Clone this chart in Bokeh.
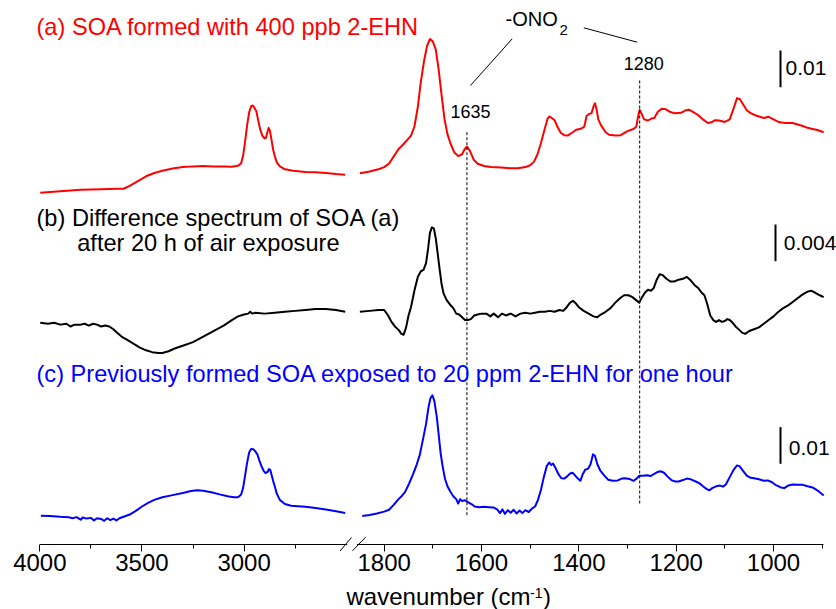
import numpy as np
from bokeh.plotting import figure
from bokeh.models import Range1d, FixedTicker, Label, LinearAxis
from bokeh.embed import file_html
from bokeh.resources import INLINE

# ---------------- data (wavenumber in cm-1, absorbance) ----------------
# (a) SOA formed with 400 ppb 2-EHN
wn_a_left = [3998, 3900, 3800, 3700, 3620, 3590, 3560, 3520, 3480, 3440, 3400, 3350, 3300, 3250, 3200,
             3150, 3100, 3060, 3030, 3015, 3005, 2995, 2985, 2975, 2965, 2958, 2950, 2940, 2930, 2920,
             2910, 2900, 2893, 2886, 2880, 2874, 2866, 2858, 2850, 2840, 2825, 2800, 2760, 2700, 2650,
             2600, 2550, 2505]
abs_a_left = [0.0000, 0.0004, 0.0008, 0.0010, 0.0011, 0.0011, 0.0019, 0.0032, 0.0045, 0.0054, 0.0060,
              0.0066, 0.0070, 0.0072, 0.0073, 0.0072, 0.0072, 0.0071, 0.0074, 0.0080, 0.0100, 0.0140,
              0.0185, 0.0220, 0.0236, 0.0238, 0.0232, 0.0222, 0.0195, 0.0170, 0.0155, 0.0148, 0.0150,
              0.0165, 0.0177, 0.0170, 0.0145, 0.0118, 0.0100, 0.0083, 0.0072, 0.0064, 0.0060, 0.0057,
              0.0056, 0.0054, 0.0051, 0.0049]
wn_a_right = [1850, 1830, 1810, 1800, 1790, 1780, 1770, 1760, 1752, 1745, 1738, 1731, 1725, 1718, 1712,
              1706, 1700, 1694, 1688, 1682, 1676, 1670, 1664, 1656, 1648, 1640, 1635, 1630, 1624, 1616,
              1608, 1595, 1580, 1560, 1540, 1525, 1510, 1500, 1492, 1485, 1478, 1470, 1464, 1460, 1455,
              1450, 1444, 1437, 1430, 1423, 1415, 1405, 1395, 1389, 1384, 1378, 1374, 1370, 1367, 1364,
              1360, 1355, 1345, 1338, 1325, 1314, 1300, 1288, 1282, 1278, 1275, 1271, 1266, 1258, 1250,
              1245, 1238, 1230, 1222, 1212, 1204, 1190, 1180, 1173, 1165, 1155, 1145, 1135, 1128, 1120,
              1112, 1100, 1090, 1082, 1075, 1069, 1062, 1055, 1047, 1035, 1020, 1010, 1000, 988, 975,
              961, 950, 940, 930, 920, 910, 897]
abs_a_right = [0.0053, 0.0058, 0.0065, 0.0070, 0.0080, 0.0100, 0.0120, 0.0133, 0.0145, 0.0156, 0.0180,
               0.0233, 0.0300, 0.0360, 0.0400, 0.0419, 0.0412, 0.0390, 0.0335, 0.0265, 0.0200, 0.0160,
               0.0135, 0.0110, 0.0100, 0.0105, 0.0118, 0.0126, 0.0115, 0.0090, 0.0079, 0.0073, 0.0070,
               0.0069, 0.0067, 0.0067, 0.0070, 0.0075, 0.0085, 0.0105, 0.0135, 0.0175, 0.0203, 0.0208,
               0.0203, 0.0198, 0.0180, 0.0163, 0.0157, 0.0156, 0.0163, 0.0172, 0.0175, 0.0180, 0.0210,
               0.0215, 0.0217, 0.0235, 0.0244, 0.0230, 0.0200, 0.0185, 0.0165, 0.0158, 0.0156, 0.0157,
               0.0168, 0.0174, 0.0180, 0.0210, 0.0226, 0.0215, 0.0200, 0.0197, 0.0203, 0.0204, 0.0220,
               0.0229, 0.0228, 0.0220, 0.0217, 0.0218, 0.0225, 0.0226, 0.0220, 0.0212, 0.0200, 0.0190,
               0.0192, 0.0198, 0.0197, 0.0193, 0.0200, 0.0230, 0.0258, 0.0255, 0.0240, 0.0225, 0.0217,
               0.0210, 0.0204, 0.0207, 0.0200, 0.0192, 0.0190, 0.0190, 0.0186, 0.0182, 0.0177, 0.0174,
               0.0171, 0.0165]

# (b) Difference spectrum of SOA (a) after 20 h of air exposure
wn_b_left = [3998, 3960, 3930, 3900, 3870, 3850, 3830, 3800, 3780, 3760, 3740, 3720, 3700, 3680, 3660,
             3640, 3620, 3600, 3570, 3540, 3510, 3480, 3450, 3420, 3400, 3370, 3340, 3300, 3250, 3200,
             3150, 3100, 3060, 3030, 3000, 2980, 2970, 2960, 2945, 2900, 2850, 2800, 2750, 2700, 2650,
             2600, 2550, 2505]
abs_b_left = [0.0000, -0.0001, 0.0000, -0.0002, -0.0001, -0.0004, -0.0002, -0.0002, -0.0001, -0.0003,
              -0.0001, -0.0002, -0.0004, -0.0003, -0.0004, -0.0007, -0.0011, -0.0015, -0.0019, -0.0023,
              -0.0027, -0.0030, -0.0032, -0.0033, -0.0033, -0.0031, -0.0028, -0.0025, -0.0021, -0.0015,
              -0.0009, -0.0003, 0.0003, 0.0007, 0.0009, 0.0010, 0.0012, 0.0010, 0.0011, 0.0010, 0.0011,
              0.0012, 0.0013, 0.0014, 0.0015, 0.0015, 0.0014, 0.0012]
wn_b_right = [1850, 1830, 1812, 1800, 1792, 1785, 1778, 1770, 1765, 1760, 1755, 1750, 1745, 1738, 1731,
              1725, 1719, 1714, 1710, 1706, 1702, 1698, 1694, 1690, 1686, 1682, 1678, 1672, 1665, 1658,
              1652, 1646, 1640, 1634, 1628, 1622, 1615, 1608, 1600, 1590, 1582, 1575, 1566, 1558, 1550,
              1540, 1530, 1520, 1510, 1500, 1490, 1480, 1470, 1460, 1450, 1440, 1432, 1425, 1418, 1412,
              1406, 1400, 1390, 1380, 1370, 1362, 1355, 1345, 1335, 1325, 1315, 1307, 1298, 1290, 1283,
              1276, 1270, 1264, 1258, 1252, 1246, 1240, 1234, 1228, 1220, 1212, 1204, 1195, 1186, 1178,
              1170, 1162, 1155, 1148, 1142, 1136, 1130, 1124, 1118, 1112, 1106, 1100, 1095, 1090, 1084,
              1078, 1070, 1064, 1058, 1050, 1040, 1030, 1020, 1010, 1000, 990, 980, 970, 960, 950, 940,
              930, 923, 915, 905, 897]
abs_b_right = [0.0012, 0.0013, 0.0014, 0.0014, 0.0008, 0.0001, -0.0004, -0.0008, -0.0012, -0.0013,
               -0.0005, 0.0008, 0.0017, 0.0035, 0.0050, 0.0056, 0.0058, 0.0065, 0.0080, 0.0098, 0.0104,
               0.0103, 0.0092, 0.0075, 0.0058, 0.0042, 0.0032, 0.0025, 0.0020, 0.0016, 0.0010, 0.0009,
               0.0006, 0.0003, 0.0003, 0.0004, 0.0008, 0.0009, 0.0010, 0.0010, 0.0007, 0.0010, 0.0006,
               0.0010, 0.0008, 0.0010, 0.0007, 0.0010, 0.0011, 0.0010, 0.0011, 0.0012, 0.0012, 0.0013,
               0.0012, 0.0014, 0.0013, 0.0017, 0.0022, 0.0024, 0.0021, 0.0017, 0.0013, 0.0010, 0.0007,
               0.0006, 0.0009, 0.0012, 0.0016, 0.0022, 0.0027, 0.0030, 0.0030, 0.0028, 0.0025, 0.0022,
               0.0028, 0.0033, 0.0036, 0.0035, 0.0038, 0.0047, 0.0053, 0.0052, 0.0048, 0.0045, 0.0045,
               0.0047, 0.0048, 0.0050, 0.0046, 0.0041, 0.0038, 0.0033, 0.0030, 0.0020, 0.0008, 0.0003,
               0.0001, 0.0003, 0.0001, 0.0002, 0.0004, 0.0003, 0.0000, -0.0004, -0.0008, -0.0011,
               -0.0012, -0.0009, -0.0007, -0.0005, -0.0001, 0.0003, 0.0007, 0.0012, 0.0016, 0.0019,
               0.0023, 0.0027, 0.0031, 0.0034, 0.0035, 0.0033, 0.0030, 0.0028]

# (c) Previously formed SOA exposed to 20 ppm 2-EHN for one hour
wn_c_left = [3995, 3950, 3900, 3860, 3840, 3820, 3800, 3790, 3770, 3750, 3735, 3720, 3700, 3685, 3670,
             3655, 3640, 3625, 3610, 3590, 3560, 3530, 3500, 3470, 3440, 3400, 3350, 3300, 3260, 3230,
             3200, 3160, 3120, 3080, 3050, 3030, 3015, 3005, 2995, 2985, 2975, 2965, 2955, 2945, 2935,
             2925, 2915, 2905, 2895, 2885, 2878, 2872, 2865, 2858, 2850, 2840, 2825, 2800, 2770, 2700,
             2650, 2600, 2550, 2505]
abs_c_left = [0.0005, 0.0004, 0.0002, 0.0001, -0.0002, 0.0001, -0.0006, 0.0000, -0.0003, -0.0001,
              -0.0008, -0.0002, -0.0004, -0.0009, -0.0002, -0.0007, -0.0003, -0.0008, -0.0002, 0.0002,
              0.0008, 0.0018, 0.0030, 0.0040, 0.0048, 0.0055, 0.0061, 0.0067, 0.0072, 0.0074, 0.0073,
              0.0069, 0.0063, 0.0058, 0.0055, 0.0055, 0.0062, 0.0080, 0.0115, 0.0150, 0.0178, 0.0187,
              0.0186, 0.0180, 0.0172, 0.0155, 0.0140, 0.0128, 0.0121, 0.0124, 0.0132, 0.0130, 0.0115,
              0.0100, 0.0085, 0.0065, 0.0048, 0.0037, 0.0032, 0.0029, 0.0026, 0.0022, 0.0017, 0.0012]
wn_c_right = [1845, 1830, 1815, 1800, 1790, 1780, 1772, 1765, 1757, 1749, 1740, 1733, 1727, 1720, 1714,
              1709, 1705, 1701, 1697, 1692, 1688, 1684, 1680, 1675, 1670, 1664, 1658, 1652, 1648, 1644,
              1640, 1634, 1628, 1620, 1614, 1605, 1595, 1585, 1575, 1568, 1562, 1557, 1552, 1546, 1540,
              1534, 1528, 1522, 1516, 1510, 1503, 1496, 1490, 1484, 1478, 1472, 1466, 1461, 1457, 1453,
              1448, 1442, 1436, 1430, 1424, 1418, 1413, 1408, 1402, 1397, 1392, 1387, 1381, 1376, 1371,
              1367, 1362, 1356, 1348, 1340, 1330, 1320, 1312, 1305, 1296, 1288, 1282, 1276, 1268, 1260,
              1253, 1246, 1238, 1232, 1225, 1218, 1210, 1202, 1195, 1186, 1178, 1170, 1160, 1152, 1145,
              1138, 1132, 1126, 1118, 1110, 1104, 1098, 1090, 1082, 1075, 1070, 1063, 1055, 1047, 1040,
              1030, 1020, 1012, 1003, 995, 985, 978, 970, 960, 950, 940, 930, 920, 910, 897]
abs_c_right = [0.0004, 0.0007, 0.0011, 0.0016, 0.0021, 0.0035, 0.0048, 0.0057, 0.0070, 0.0092, 0.0120,
               0.0145, 0.0170, 0.0215, 0.0255, 0.0300, 0.0325, 0.0333, 0.0318, 0.0275, 0.0225, 0.0175,
               0.0140, 0.0105, 0.0085, 0.0070, 0.0058, 0.0050, 0.0038, 0.0050, 0.0045, 0.0047, 0.0042,
               0.0036, 0.0030, 0.0028, 0.0029, 0.0028, 0.0027, 0.0022, 0.0012, 0.0022, 0.0010, 0.0020,
               0.0013, 0.0021, 0.0011, 0.0019, 0.0012, 0.0020, 0.0015, 0.0025, 0.0030, 0.0048, 0.0075,
               0.0110, 0.0140, 0.0150, 0.0143, 0.0147, 0.0135, 0.0118, 0.0107, 0.0106, 0.0112, 0.0120,
               0.0122, 0.0115, 0.0106, 0.0100, 0.0118, 0.0130, 0.0133, 0.0145, 0.0172, 0.0168, 0.0145,
               0.0128, 0.0115, 0.0103, 0.0100, 0.0101, 0.0106, 0.0107, 0.0105, 0.0100, 0.0105, 0.0114,
               0.0114, 0.0115, 0.0113, 0.0118, 0.0124, 0.0126, 0.0122, 0.0112, 0.0102, 0.0098, 0.0098,
               0.0102, 0.0106, 0.0104, 0.0098, 0.0093, 0.0085, 0.0078, 0.0074, 0.0080, 0.0085, 0.0087,
               0.0084, 0.0090, 0.0110, 0.0130, 0.0142, 0.0140, 0.0128, 0.0114, 0.0108, 0.0107, 0.0104,
               0.0100, 0.0101, 0.0096, 0.0088, 0.0082, 0.0080, 0.0087, 0.0090, 0.0089, 0.0089, 0.0085,
               0.0082, 0.0074, 0.0060]

# axis ticks
major_wn = [4000, 3500, 3000, 1800, 1600, 1400, 1200, 1000]
minor_wn = [3750, 3250, 2750, 1700, 1500, 1300, 1100, 900]
marker_wn = [1630, 1275]            # dashed guide lines
marker_labels = ["1635", "1280"]
scale_values = [0.01, 0.004, 0.01]
scale_labels = ["0.01", "0.004", "0.01"]
panel_colors = ["#ff0000", "#000000", "#0000ff"]

# ---------------- broken axis geometry (pixels) ----------------
X4000, L_PX = 39.33, 0.20427       # left segment: 4000..2500
X1800, R_PX = 383.7, 0.48667       # right segment: 1860..900
Y_PX = 0.01 / 36.7                 # absorbance per pixel
AX_PY = 544.0
W, H = 836, 609


def px_of_w(w):
    w = np.asarray(w, dtype=float)
    return np.where(w > 2200, X4000 + (4000 - w) * L_PX, X1800 + (1800 - w) * R_PX)


def u_of_px(px):
    return 1800 - (np.asarray(px, dtype=float) - X1800) / R_PX


def u_of(w):
    return u_of_px(px_of_w(w))


def y_of_py(py):
    return (AX_PY - np.asarray(py, dtype=float)) * Y_PX


offsets = [y_of_py(192.3), y_of_py(322.3), y_of_py(517.0)]
factors = [1.0, 2.5, 1.0]

p = figure(width=W, height=H, output_backend="svg", toolbar_location=None,
           x_range=Range1d(float(u_of_px(0)), float(u_of_px(W))),
           y_range=Range1d(float(y_of_py(H)), float(y_of_py(0))),
           min_border=0, x_axis_location=None, y_axis_location=None)
p.outline_line_color = None
p.xgrid.visible = False
p.ygrid.visible = False
p.background_fill_color = "white"
p.border_fill_color = "white"

FONT = "Liberation Sans"

# spectra
series = [(wn_a_left, abs_a_left, wn_a_right, abs_a_right),
          (wn_b_left, abs_b_left, wn_b_right, abs_b_right),
          (wn_c_left, abs_c_left, wn_c_right, abs_c_right)]
for (wl, al, wr, ar), off, fac, col in zip(series, offsets, factors, panel_colors):
    for w, a in ((wl, al), (wr, ar)):
        p.line(u_of(w), off + fac * np.asarray(a), line_color=col, line_width=2, line_join="round")

# dashed guide lines
p.segment(x0=u_of(marker_wn), x1=u_of(marker_wn), y0=[y_of_py(131.7), y_of_py(80)],
          y1=[y_of_py(515), y_of_py(503.3)], line_color="black", line_width=1, line_dash="3 2")

# leader lines to -ONO2
p.segment(x0=[u_of_px(470), u_of_px(583.3)], y0=[y_of_py(85), y_of_py(27.3)],
          x1=[u_of_px(511.7), u_of_px(636.7)], y1=[y_of_py(38.3), y_of_py(41.7)],
          line_color="black", line_width=1)

# scale bars
bar_px = [780, 775, 780]
bar_bottom = [86.7, 260.7, 463.3]
for v, fac, bx, bb in zip(scale_values, factors, bar_px, bar_bottom):
    y0 = float(y_of_py(bb))
    p.segment(x0=[u_of_px(bx)], x1=[u_of_px(bx)], y0=[y0], y1=[y0 + v * fac],
              line_color="black", line_width=2)


def add_text(px, py, text, size, color="black", align="left"):
    p.add_layout(Label(x=float(u_of_px(px)), y=float(y_of_py(py)), text=text,
                       text_font=FONT, text_font_size=f"{size}px", text_color=color,
                       text_align=align, text_baseline="middle"))


# panel titles
add_text(36, 26, "(a) SOA formed with 400 ppb 2-EHN", 23.6, panel_colors[0])
add_text(36, 217.5, "(b) Difference spectrum of SOA (a)", 23.6, panel_colors[1])
add_text(76.7, 242.5, "after 20 h of air exposure", 23.6, panel_colors[1])
add_text(36, 373, "(c) Previously formed SOA exposed to 20 ppm 2-EHN for one hour", 23.6, panel_colors[2])

# peak labels
add_text(470, 110.7, marker_labels[0], 18, align="center")
add_text(643.3, 63.3, marker_labels[1], 18, align="center")
add_text(505, 18, "-ONO", 20)
add_text(559, 29, "2", 15)

# scale labels
add_text(785, 67.3, scale_labels[0], 21)
add_text(783.3, 242.7, scale_labels[1], 21)
add_text(788.3, 447.3, scale_labels[2], 21)

# x axis (broken), fixed at absorbance 0 of the canvas layout
ax = LinearAxis(fixed_location=0.0)
ax.ticker = FixedTicker(ticks=[round(float(u_of(w)), 3) for w in major_wn],
                        minor_ticks=[round(float(u_of(w)), 3) for w in minor_wn])
ax.major_label_overrides = {round(float(u_of(w)), 3): str(w) for w in major_wn}
ax.axis_line_color = None
ax.major_tick_in = 0
ax.major_tick_out = 7
ax.minor_tick_in = 0
ax.minor_tick_out = 4
ax.major_tick_line_color = "black"
ax.minor_tick_line_color = "black"
ax.major_label_standoff = 2
ax.major_label_text_font = FONT
ax.major_label_text_font_size = "24px"
ax.major_label_text_color = "black"
p.add_layout(ax, "below")

# axis line pieces and break marks
seg_px = [(39.33, 346.7, AX_PY, AX_PY), (356.5, 823.0, AX_PY, AX_PY),
          (339.5, 351.0, 550.5, 537.0), (352.0, 365.0, 550.3, 536.8)]
p.segment(x0=[float(u_of_px(s[0])) for s in seg_px], x1=[float(u_of_px(s[1])) for s in seg_px],
          y0=[float(y_of_py(s[2])) for s in seg_px], y1=[float(y_of_py(s[3])) for s in seg_px],
          line_color="black", line_width=1)

# axis title
add_text(346, 596, "wavenumber (cm", 24)
add_text(529.5, 592, "-1", 14)
add_text(542.5, 596, ")", 24)

open("out.html", "w").write(file_html(p, INLINE))
